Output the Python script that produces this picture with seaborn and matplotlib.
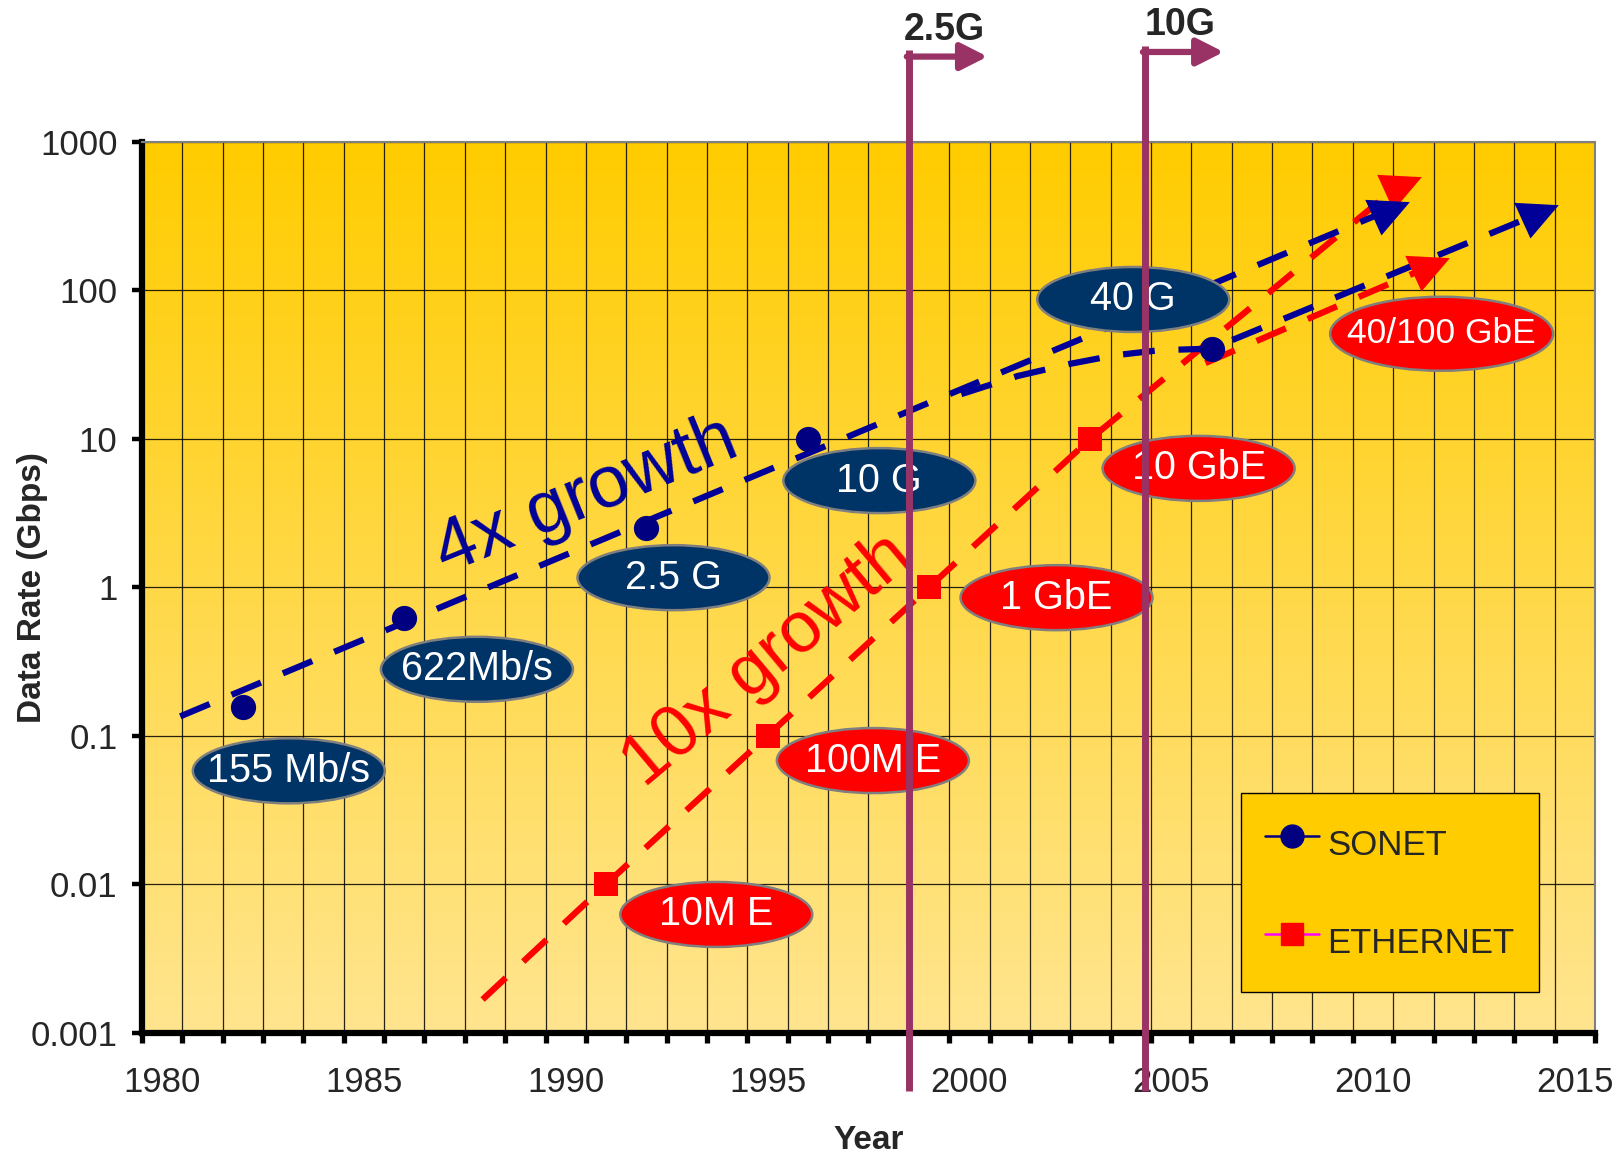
import matplotlib
matplotlib.use("Agg")
import matplotlib.pyplot as plt
import numpy as np
import seaborn as sns
from matplotlib import transforms
from matplotlib.colors import LinearSegmentedColormap
from matplotlib.lines import Line2D
from matplotlib.patches import Ellipse
from matplotlib.ticker import FixedFormatter, FixedLocator, NullLocator

sns.set_theme(style="ticks")
plt.rcParams["font.family"] = ["Liberation Sans", "DejaVu Sans"]

###
# Data
###
sonet_years = [1982, 1986, 1992, 1996, 2006]
sonet_rates = [0.155, 0.622, 2.5, 10, 40]
ethernet_years = [1991, 1995, 1999, 2003]
ethernet_rates = [0.01, 0.1, 1, 10]

sonet_labels = ["155 Mb/s", "622Mb/s", "2.5 G", "10 G", "40 G"]
sonet_label_years = [1983.14, 1987.80, 1992.67, 1997.77, 2004.06]
sonet_label_rates = [0.058, 0.28, 1.16, 5.23, 86.8]
ethernet_labels = ["10M E", "100M E", "1 GbE", "10 GbE", "40/100 GbE"]
ethernet_label_years = [1993.73, 1997.61, 2002.16, 2005.68, 2011.70]
ethernet_label_rates = [0.00625, 0.068, 0.851, 6.32, 51.0]

# hand drawn trend lines (vertices)
sonet_trend_years = [1980.45, 2010.3]
sonet_trend_rates = [0.135, 339]
sonet_next_years = [1999.8, 2001.2, 2002.5, 2003.6, 2004.7, 2006.0, 2014.0]
sonet_next_rates = [20, 26.5, 32, 36.5, 39.5, 40.5, 320]
ethernet_trend_years = [1987.94, 1991, 1995, 1999, 2003, 2006.8, 2010.6]
ethernet_trend_rates = [0.00167, 0.01, 0.1, 1, 10, 70, 500]
ethernet_next_years = [2005.85, 2011.3]
ethernet_next_rates = [32.4, 141]

milestone_years = [1998.5, 2004.35]
milestone_labels = ["2.5G", "10G"]

year_ticks = [1980, 1985, 1990, 1995, 2000, 2005, 2010, 2015]
rate_ticks = [0.001, 0.01, 0.1, 1, 10, 100, 1000]
rate_tick_labels = ["0.001", "0.01", "0.1", "1", "10", "100", "1000"]

NAVY = "#003366"
BLUE = "#000099"
RED = "#FF0000"
PURPLE = "#993366"

###
# Figure
###
fig = plt.figure(figsize=(16.24, 11.55), dpi=100)
pos = [141.9 / 1624, 1 - 1032.6 / 1155, (1595 - 141.9) / 1624, (1032.6 - 141.9) / 1155]

# gold gradient behind the plot
bg = fig.add_axes(pos, zorder=0)
gold = LinearSegmentedColormap.from_list("gold", ["#FFCC00", "#FFE58F"])
bg.imshow(np.linspace(0, 1, 256)[:, None], aspect="auto", cmap=gold, extent=(0, 1, 0, 1))
bg.axis("off")

ax = fig.add_axes(pos, zorder=1)
ax.patch.set_alpha(0)
ax.set_yscale("log")

# trend lines
arrow_head = [(-20, 12.5), (24, 10.2), (-4, -22.7)]
for yrs, rts, col in [
    (ethernet_trend_years, ethernet_trend_rates, RED),
    (ethernet_next_years, ethernet_next_rates, RED),
    (sonet_trend_years, sonet_trend_rates, BLUE),
    (sonet_next_years, sonet_next_rates, BLUE),
]:
    ax.plot(yrs, rts, color=col, lw=4.5, dashes=(5.1, 3.8), zorder=3)
    ax.plot(yrs[-1:], rts[-1:], ls="none", marker=arrow_head, ms=35, color=col, mew=0, zorder=3.5)

# data points
sns.scatterplot(x=sonet_years, y=sonet_rates, marker="o", s=330, color="#000080",
                linewidth=0, ax=ax, zorder=5, legend=False)
sns.scatterplot(x=ethernet_years, y=ethernet_rates, marker="s", s=300, color=RED,
                linewidth=0, ax=ax, zorder=5, legend=False)


def label_ellipse(x, y, text, face, w=1.92, h=0.65, size=28.5):
    tr = fig.dpi_scale_trans + transforms.ScaledTranslation(x, y, ax.transData)
    ax.add_patch(Ellipse((0, 0), w, h, transform=tr, facecolor=face,
                         edgecolor="#7f7f7f", lw=1.8, zorder=6))
    ax.text(x, y, text, color="white", fontsize=size, ha="center", va="center", zorder=7)


for x, y, t in zip(sonet_label_years, sonet_label_rates, sonet_labels):
    label_ellipse(x, y, t, NAVY)
for x, y, t in zip(ethernet_label_years, ethernet_label_rates, ethernet_labels):
    if t == "40/100 GbE":
        label_ellipse(x, y, t, RED, w=2.23, h=0.74, size=25.5)
    else:
        label_ellipse(x, y, t, RED)

ax.text(1990.5, 4.1, "4x growth", color=BLUE, fontsize=53, rotation=22,
        rotation_mode="anchor", ha="center", va="center", zorder=6)
ax.text(1995.0, 0.32, "10x growth", color=RED, fontsize=52, rotation=40,
        rotation_mode="anchor", ha="center", va="center", zorder=6)

# milestone markers above the plot
blend = transforms.blended_transform_factory(ax.transData, fig.transFigure)
for yr, lab, top, shaft, laby in zip(milestone_years, milestone_labels,
                                     [0.957, 0.960], [0.951, 0.955], [0.974, 0.978]):
    ax.plot([yr, yr], [0.055, top], transform=blend, color=PURPLE, lw=5,
            clip_on=False, zorder=8, solid_capstyle="butt")
    ax.annotate("", xy=(yr + 1.95, shaft), xytext=(yr - 0.05, shaft), xycoords=blend,
                textcoords=blend, annotation_clip=False, zorder=8,
                arrowprops=dict(arrowstyle="-|>,head_length=0.65,head_width=0.33",
                                mutation_scale=25, color=PURPLE, lw=4.5,
                                shrinkA=0, shrinkB=0))
    ax.text(yr + 0.88, laby, lab, transform=blend, fontsize=27, fontweight="bold",
            ha="center", va="center")

# axes, ticks and grid
ax.set_xlim(1979.5, 2015.5)
ax.set_ylim(0.001, 1000)
ax.xaxis.set_major_locator(FixedLocator(year_ticks))
ax.xaxis.set_minor_locator(FixedLocator(np.arange(1979.5, 2016, 1)))
ax.yaxis.set_major_locator(FixedLocator(rate_ticks))
ax.yaxis.set_major_formatter(FixedFormatter(rate_tick_labels))
ax.yaxis.set_minor_locator(NullLocator())

ax.xaxis.grid(False, which="major")
ax.xaxis.grid(True, which="minor", color="black", lw=0.9, alpha=0.85)
ax.yaxis.grid(True, which="major", color="black", lw=0.9, alpha=0.85)
ax.set_axisbelow(True)

ax.tick_params(axis="x", which="major", length=0, pad=24, labelsize=25, bottom=True)
ax.tick_params(axis="x", which="minor", length=7.5, width=3.8, color="black",
               direction="out", bottom=True)
ax.tick_params(axis="y", which="major", length=7, width=3.2, color="black",
               direction="out", pad=10.5, labelsize=25, left=True)

for side in ["left", "bottom"]:
    ax.spines[side].set_linewidth(4.5)
    ax.spines[side].set_color("black")
for side in ["top", "right"]:
    ax.spines[side].set_linewidth(1.5)
    ax.spines[side].set_color("#808080")

ax.set_xlabel("Year", fontsize=24, fontweight="bold")
ax.xaxis.set_label_coords(0.5, -0.104)
ax.set_ylabel("Data Rate (Gbps)", fontsize=24, fontweight="bold")
ax.yaxis.set_label_coords(-0.0646, 0.5)

handles = [
    Line2D([], [], color="#000080", lw=1.8, marker="o", ms=16.5, mfc="#000080",
           mec="#000080", label="SONET"),
    Line2D([], [], color="#FF00FF", lw=1.8, marker="s", ms=16, mfc=RED,
           mec=RED, label="ETHERNET"),
]
leg = ax.legend(handles=handles, loc="upper left",
                bbox_to_anchor=(1240.7 / 1624, 1 - 793.3 / 1155),
                bbox_transform=fig.transFigure, fontsize=25, frameon=True,
                fancybox=False, framealpha=1, facecolor="#FFCC00", edgecolor="black",
                borderpad=0.7, labelspacing=1.3, handlelength=1.55, handleheight=1.95,
                handletextpad=0.24, borderaxespad=0)
leg.get_frame().set_linewidth(1.0)
leg.set_zorder(10)

fig.savefig("out.png", dpi=100)
